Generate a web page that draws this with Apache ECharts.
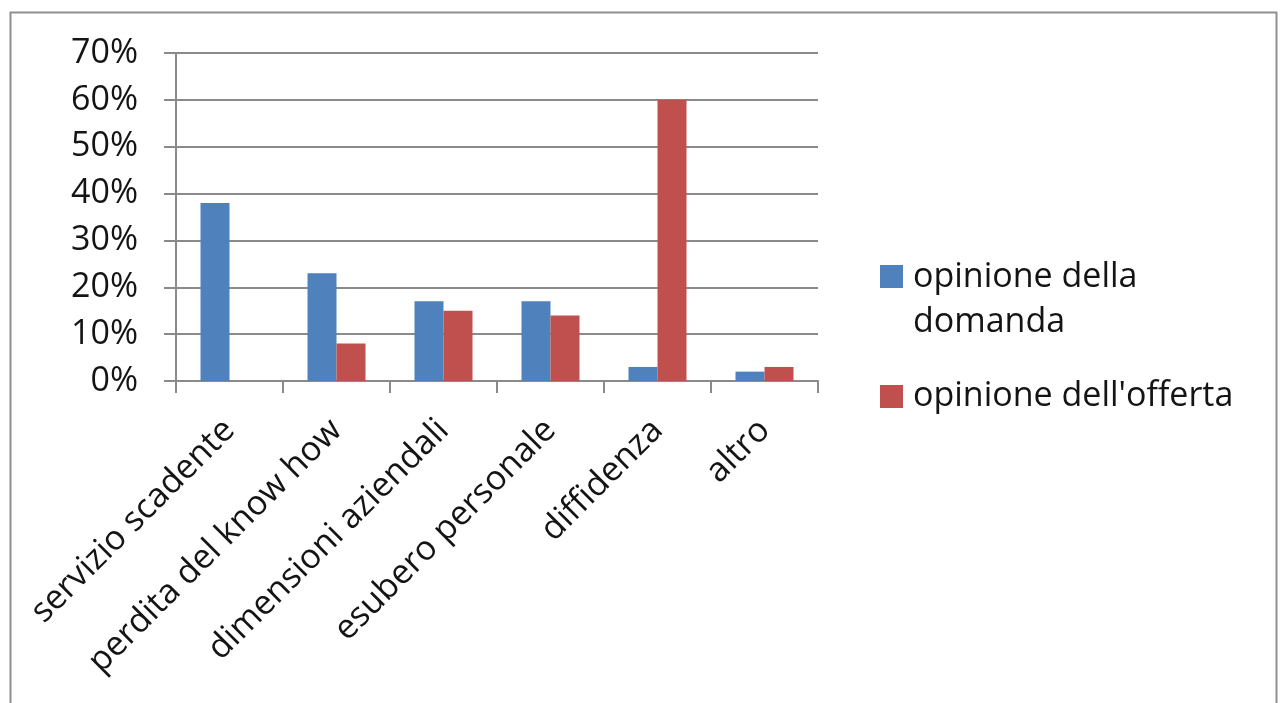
<!DOCTYPE html>
<html>
<head>
<meta charset="utf-8">
<script src="https://cdn.jsdelivr.net/npm/echarts@6/dist/echarts.min.js"></script>
<style>
html,body{margin:0;padding:0;background:#fff;}
#chart{width:1284px;height:703px;}
</style>
</head>
<body>
<div id="chart"></div>
<script>
const categories = ['servizio scadente', 'perdita del know how', 'dimensioni aziendali', 'esubero personale', 'diffidenza', 'altro'];
const domanda = [38, 23, 17, 17, 3, 2];
const offerta = [0, 8, 15, 14, 60, 3];
const seriesNames = ['opinione della domanda', "opinione dell'offerta"];
const yTicks = { min: 0, max: 70, interval: 10 };

const gray = '#8a8a8a';
const txt = '#141414';
const font = 'Open Sans';
const fs = 34;

const chart = echarts.init(document.getElementById('chart'), null, { renderer: 'canvas' });
chart.setOption({
  backgroundColor: '#ffffff',
  animation: false,
  graphic: [{
    type: 'rect', left: 8, top: 10,
    shape: { width: 1266, height: 720 },
    style: { fill: 'none', stroke: '#8f8f8f', lineWidth: 2 },
    silent: true
  }],
  grid: { left: 176, right: 466, top: 53, bottom: 322, containLabel: false },
  legend: {
    orient: 'vertical',
    left: 880,
    top: 254.5,
    padding: 0,
    itemWidth: 23,
    itemHeight: 69,
    itemGap: 17.5,
    data: [
      { name: seriesNames[0], icon: 'path://M0,0H1V1H0Z M0,2.999H0.001V3H0Z' },
      { name: seriesNames[1], icon: 'path://M0,0H0.001V0.001H0Z M0,1H1V2H0Z M0,2.999H0.001V3H0Z' }
    ],
    formatter: function (name) {
      return name === seriesNames[0] ? 'opinione della\ndomanda' : name;
    },
    textStyle: { fontFamily: font, fontSize: fs, lineHeight: 45, color: txt, padding: [0, 0, 0, 5] }
  },
  xAxis: {
    type: 'category',
    data: categories,
    axisLine: { lineStyle: { color: gray, width: 2 } },
    axisTick: { show: true, length: 12, lineStyle: { color: gray, width: 2 } },
    axisLabel: { interval: 0, rotate: 45, margin: 44, fontFamily: font, fontSize: fs, color: txt }
  },
  yAxis: {
    type: 'value',
    min: yTicks.min, max: yTicks.max, interval: yTicks.interval,
    axisLine: { show: true, lineStyle: { color: gray, width: 2 } },
    axisTick: { show: true, length: 12, lineStyle: { color: gray, width: 2 } },
    splitLine: { show: true, lineStyle: { color: gray, width: 2 } },
    axisLabel: { formatter: '{value}%', margin: 38, fontFamily: font, fontSize: fs, color: txt }
  },
  series: [
    { name: seriesNames[0], type: 'bar', data: domanda, barWidth: 29, barGap: '0%', itemStyle: { color: '#4F81BD' } },
    { name: seriesNames[1], type: 'bar', data: offerta, barWidth: 29, barGap: '0%', itemStyle: { color: '#C0504D' } }
  ]
});
</script>
</body>
</html>
